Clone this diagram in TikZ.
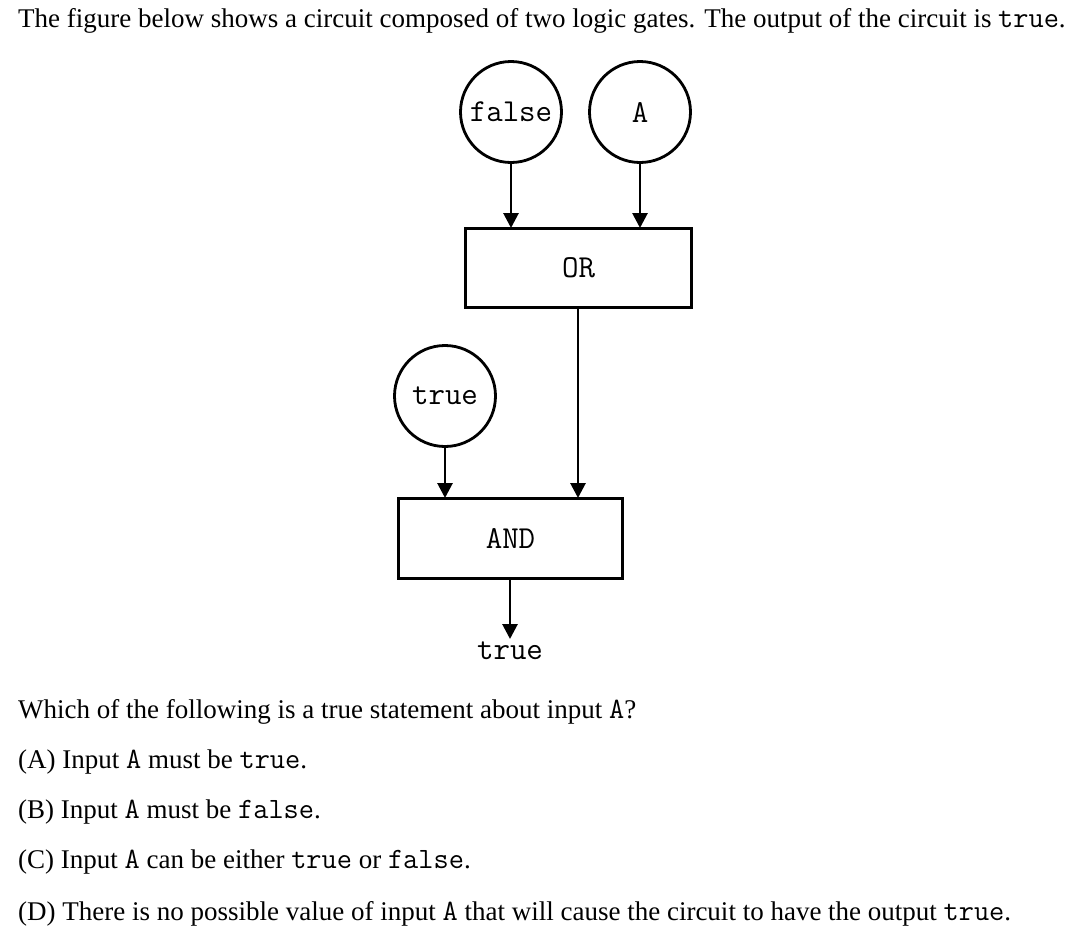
\documentclass[tikz,border=0pt]{standalone}
\usepackage{fontspec}
\setmainfont{Liberation Serif}
\usetikzlibrary{arrows.meta}
\newcommand{\cd}[1]{{\fontsize{29.5}{29.5}\ttfamily #1}}
\begin{document}
\begin{tikzpicture}[x=1pt,y=-1pt,
  gatein/.style={circle,draw,line width=2.8pt,minimum size=101pt,inner sep=0pt,font=\fontsize{32}{32}\ttfamily},
  gatebox/.style={rectangle,draw,line width=2.8pt,inner sep=0pt,font=\fontsize{32}{32}\ttfamily},
  wire/.style={line width=2.8pt,-{Triangle[width=15pt,length=15pt]}},
  txt/.style={anchor=base west,inner sep=0pt,font=\fontsize{27}{27}\selectfont}]
\useasboundingbox (0,0) rectangle (1075,927);
\node[txt] (t1) at (18,27) {The figure below shows a circuit composed of two logic gates. The output of the circuit is \cd{true}.};
\node[gatein] (f) at (511,112) {false};
\node[gatein] (a) at (640,112) {A};
\node[gatebox,minimum width=226pt,minimum height=79pt] (or) at (578.5,268) {OR};
\node[gatein] (t) at (445,396) {true};
\node[gatebox,minimum width=224pt,minimum height=80pt] (and) at (510.5,538.5) {AND};
\node[inner sep=0pt,font=\fontsize{32}{32}\ttfamily] (out) at (510,651) {true};
\coordinate (fo) at (511,228);
\coordinate (ao) at (640,228);
\coordinate (ti) at (445,498);
\coordinate (oi) at (578,498);
\coordinate (oo) at (510,639);
\draw[wire] (f.south) -- (fo);
\draw[wire] (a.south) -- (ao);
\draw[wire] (t.south) -- (ti);
\draw[wire] (or.south -| oi) -- (oi);
\draw[wire] (and.south -| oo) -- (oo);
\node[txt] (q) at (18,718) {Which of the following is a true statement about input \cd{A}?};
\node[txt] (oa) at (18,768) {(A)\ Input \cd{A} must be \cd{true}.};
\node[txt] (ob) at (18,818) {(B)\ Input \cd{A} must be \cd{false}.};
\node[txt] (oc) at (18,868) {(C)\ Input \cd{A} can be either \cd{true} or \cd{false}.};
\node[txt] (od) at (18,920) {(D)\ There is no possible value of input \cd{A} that will cause the circuit to have the output \cd{true}.};
\end{tikzpicture}
\end{document}
